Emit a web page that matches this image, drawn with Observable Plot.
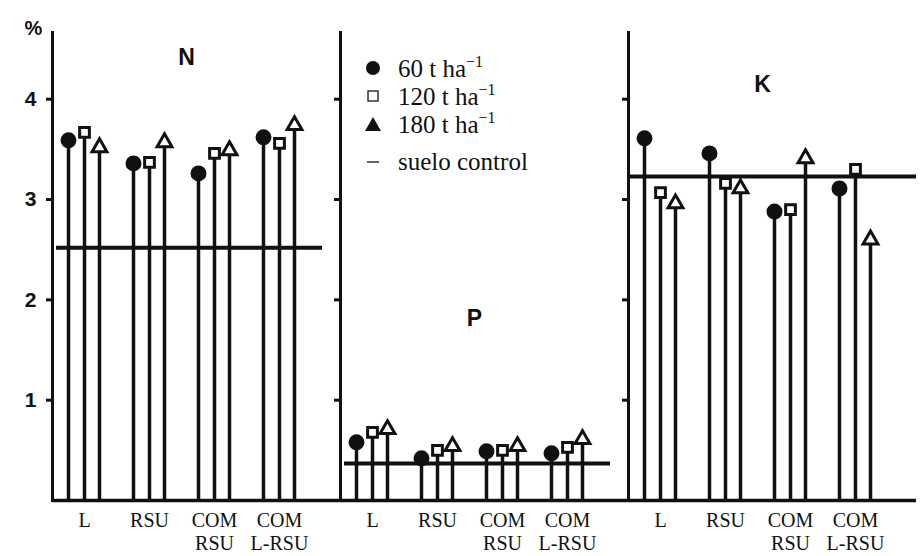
<!DOCTYPE html>
<html>
<head>
<meta charset="utf-8">
<script src="https://cdn.jsdelivr.net/npm/d3@7"></script>
<script src="https://cdn.jsdelivr.net/npm/@observablehq/plot@0.6"></script>
<style>
  body { margin: 0; background: #fff; }
  #wrap { position: relative; width: 920px; height: 556px; overflow: hidden; }
  #legend { position: absolute; left: 358px; top: 54px; font-family: "Liberation Serif", "DejaVu Serif", serif; font-size: 25px; color: #111; }
  #legend .row { display: flex; align-items: center; height: 28px; }
  #legend .sym { width: 30px; display: flex; justify-content: center; }
  #legend .lab { margin-left: 10px; }
  #legend sup { font-size: 16px; vertical-align: 10px; }
</style>
</head>
<body>
<div id="wrap">
  <div id="chart"></div>
  <div id="legend"></div>
</div>
<script>
// ---- data (values in %) ----
const panels = ["N", "P", "K"];
const groups = ["L", "RSU", "COM RSU", "COM L-RSU"];
const doses = ["60 t ha", "120 t ha", "180 t ha"];
// order: N(L, RSU, COM RSU, COM L-RSU), P(...), K(...)
const dose60  = [3.59, 3.36, 3.26, 3.62,  0.58, 0.42, 0.49, 0.47,  3.61, 3.46, 2.88, 3.11];
const dose120 = [3.67, 3.37, 3.46, 3.56,  0.68, 0.50, 0.50, 0.53,  3.07, 3.16, 2.90, 3.30];
const dose180 = [3.52, 3.57, 3.49, 3.74,  0.71, 0.54, 0.54, 0.61,  2.96, 3.11, 3.41, 2.60];
const control = [2.52, 0.37, 3.23];
const yTicks = [1, 2, 3, 4];

// ---- build tables ----
const series = [dose60, dose120, dose180];
const rows = [];
series.forEach((vals, s) => {
  panels.forEach((p, i) => {
    groups.forEach((g, j) => {
      rows.push({panel: p, group: g, dose: doses[s], value: vals[i * groups.length + j]});
    });
  });
});
const controlRows = panels.map((p, i) => ({panel: p, value: control[i]}));

const offsets = [-16, 0, 15];
const symbols = ["circle", "square", "triangle"];
const fills = ["#111", "#fff", "#fff"];

const marks = [
  Plot.frame({anchor: "left", stroke: "#111", strokeWidth: 3}),
  Plot.ruleY([0], {stroke: "#111", strokeWidth: 3.5}),
  Plot.axisY({ticks: yTicks, tickSize: 6, tickFormat: () => "", facetAnchor: null, label: null, stroke: "#111", strokeWidth: 3}),
  Plot.axisY({ticks: yTicks, tickSize: 0, tickPadding: 16, tickFormat: "d", label: null, fontSize: 21, fontWeight: "bold",
              fontFamily: "Liberation Sans, Arial, sans-serif", fill: "#111"}),
  Plot.axisX({tickSize: 0, tickPadding: 10, label: null, fontSize: 20, lineHeight: 1.15,
              fontFamily: "Liberation Serif, DejaVu Serif, serif", fill: "#111",
              tickFormat: g => g.replace(" ", "\n")}),
  Plot.ruleY(controlRows.filter(d => d.panel !== "K"), {fx: "panel", y: "value", stroke: "#111", strokeWidth: 4, insetLeft: 4, insetRight: 18}),
  Plot.ruleY(controlRows.filter(d => d.panel === "K"), {fx: "panel", y: "value", stroke: "#111", strokeWidth: 4}),
  Plot.text(panels, {fx: d => d, text: d => d, y: d => ({N: 4.5, P: 1.9, K: 4.23})[d], frameAnchor: "top", dx: -10,
                     fontSize: 23, fontWeight: "bold", fontFamily: "Liberation Sans, Arial, sans-serif", fill: "#111"}),
  Plot.text([{panel: "N"}], {fx: "panel", text: () => "%", frameAnchor: "top-left", dx: -28, dy: -12,
                     fontSize: 20, fontWeight: "bold", fontFamily: "Liberation Sans, Arial, sans-serif", fill: "#111"})
];

doses.forEach((d, s) => {
  const data = rows.filter(r => r.dose === d);
  marks.push(Plot.ruleX(data, {fx: "panel", x: "group", y1: 0, y2: "value", dx: offsets[s], stroke: "#111", strokeWidth: 3.5}));
});
doses.forEach((d, s) => {
  const data = rows.filter(r => r.dose === d);
  marks.push(Plot.dot(data, {fx: "panel", x: "group", y: "value", dx: offsets[s], symbol: symbols[s],
                              r: s === 0 ? 6.5 : 5.5, fill: fills[s], stroke: "#111", strokeWidth: 3}));
});

const chart = Plot.plot({
  width: 920,
  height: 556,
  marginTop: 32,
  marginBottom: 56,
  marginLeft: 52,
  marginRight: 4,
  style: {background: "#fff", color: "#111"},
  fx: {domain: panels, padding: 0, axis: null},
  x: {type: "point", domain: groups, padding: 0.69, align: 0.34},
  y: {domain: [0, 4.665], axis: null},
  marks
});
document.getElementById("chart").appendChild(chart);

// ---- legend ----
const legend = document.getElementById("legend");
const legendSyms = [
  '<svg width="16" height="16"><circle cx="8" cy="8" r="7" fill="#111"/></svg>',
  '<svg width="16" height="16"><rect x="3" y="3" width="10" height="10" fill="#fff" stroke="#111" stroke-width="1.3"/></svg>',
  '<svg width="18" height="16"><polygon points="9,1 17,15 1,15" fill="#111"/></svg>'
];
doses.forEach((d, s) => {
  const row = document.createElement("div");
  row.className = "row";
  row.innerHTML = `<span class="sym">${legendSyms[s]}</span><span class="lab">${d}<sup>\u22121</sup></span>`;
  legend.appendChild(row);
});
const ctl = document.createElement("div");
ctl.className = "row";
ctl.style.marginTop = "10px";
ctl.innerHTML = '<span class="sym"><svg width="16" height="4"><line x1="2" y1="2" x2="14" y2="2" stroke="#111" stroke-width="1.3"/></svg></span><span class="lab">suelo control</span>';
legend.appendChild(ctl);
</script>
</body>
</html>
